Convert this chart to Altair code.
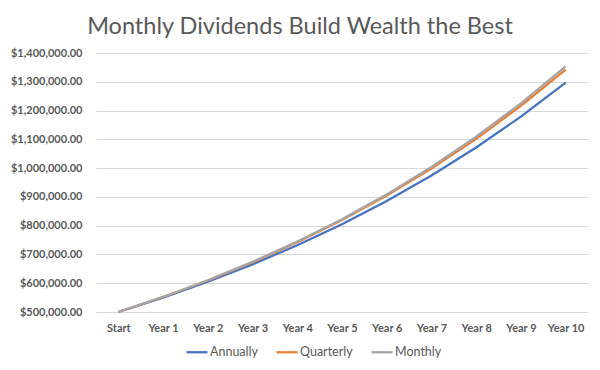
import altair as alt
import pandas as pd

periods = ["Start", "Year 1", "Year 2", "Year 3", "Year 4", "Year 5",
           "Year 6", "Year 7", "Year 8", "Year 9", "Year 10"]
annually = [500000, 550000, 605000, 665500, 732050, 805255,
            885781, 974359, 1071794, 1178974, 1296871]
quarterly = [500000, 551906, 609201, 672445, 742253, 819308,
             904363, 998247, 1101878, 1216268, 1342532]
monthly = [500000, 552357, 610196, 674090, 744677, 822655,
           908797, 1003960, 1109087, 1225223, 1353521]
series = ["Annually", "Quarterly", "Monthly"]
colors = ["#4472C4", "#ED7D31", "#A5A5A5"]
y_ticks = [500000, 600000, 700000, 800000, 900000, 1000000,
           1100000, 1200000, 1300000, 1400000]

rows = []
for s_i, (name, vals) in enumerate(zip(series, [annually, quarterly, monthly])):
    for p, v in zip(periods, vals):
        rows.append({"period": p, "value": v, "series": name, "layer": s_i})
df = pd.DataFrame(rows)

FONT = "Lato"
GRAY = "#595959"

chart = alt.Chart(df).mark_line(strokeWidth=2.25).encode(
    x=alt.X("period:N", sort=periods,
            scale=alt.Scale(type="point", padding=0.5),
            axis=alt.Axis(title=None, labelAngle=0, domain=False, ticks=False, grid=False,
                          labelPadding=10, labelFont=FONT, labelFontWeight="bold",
                          labelFontSize=11, labelColor=GRAY)),
    y=alt.Y("value:Q",
            scale=alt.Scale(domain=[500000, 1400000], nice=False, zero=False),
            axis=alt.Axis(title=None, format="$,.2f", values=y_ticks, domain=False, ticks=False,
                          gridColor="#D9D9D9", gridWidth=1, labelPadding=14,
                          labelFont=FONT, labelFontWeight="bold", labelFontSize=11,
                          labelColor=GRAY)),
    color=alt.Color("series:N", sort=series,
                    scale=alt.Scale(domain=series, range=colors),
                    legend=alt.Legend(title=None, orient="none", legendX=89, legendY=287,
                                      direction="horizontal", symbolType="stroke",
                                      symbolStrokeWidth=2.25, symbolSize=441,
                                      labelFont=FONT, labelFontSize=12.5, labelColor=GRAY,
                                      labelOffset=1, columnPadding=14)),
    order=alt.Order("layer:Q"),
).properties(
    width=492, height=259,
    autosize="none",
    padding={"left": 88, "top": 45, "right": 4, "bottom": 50},
    title=alt.TitleParams("Monthly Dividends Build Wealth the Best", font=FONT,
                          fontSize=23.5, fontWeight="normal", color=GRAY,
                          anchor="middle", dx=-42, dy=-5),
).configure_view(stroke=None)

chart.save("out.html", embed_options={"renderer": "svg", "actions": False})
